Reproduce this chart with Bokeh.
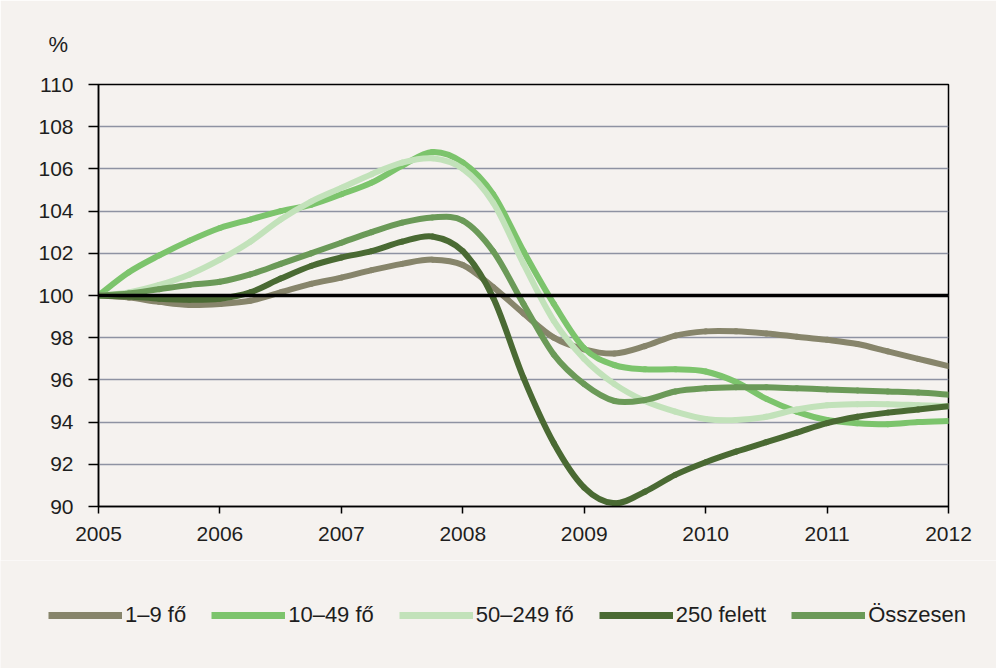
import numpy as np
from bokeh.plotting import figure
from bokeh.layouts import column
from bokeh.models import Range1d, FixedTicker, Span, Legend, LegendItem
from bokeh.embed import file_html
from bokeh.resources import INLINE

# quarterly periods
periods = [2005.0, 2005.25, 2005.5, 2005.75, 2006.0, 2006.25, 2006.5, 2006.75,
           2007.0, 2007.25, 2007.5, 2007.75, 2008.0, 2008.25, 2008.5, 2008.75,
           2009.0, 2009.25, 2009.5, 2009.75, 2010.0, 2010.25, 2010.5, 2010.75,
           2011.0, 2011.25, 2011.5, 2011.75, 2012.0]

s_1_9 = [100, 99.9, 99.7, 99.55, 99.6, 99.75, 100.15, 100.55, 100.85, 101.2, 101.5, 101.7,
         101.45, 100.4, 99.15, 98.0, 97.45, 97.25, 97.6, 98.1, 98.3, 98.3, 98.2, 98.05,
         97.9, 97.7, 97.35, 97.0, 96.65]
s_10_49 = [100, 101.1, 101.9, 102.6, 103.2, 103.6, 104.0, 104.3, 104.8, 105.35, 106.15, 106.8,
           106.3, 104.8, 102.1, 99.6, 97.5, 96.7, 96.5, 96.5, 96.4, 95.9, 95.1, 94.5,
           94.1, 93.95, 93.9, 94.0, 94.05]
s_50_249 = [100, 100.15, 100.5, 101.0, 101.7, 102.55, 103.6, 104.45, 105.1, 105.75, 106.3, 106.5,
            106.0, 104.4, 101.5, 98.8, 97.0, 95.8, 95.0, 94.5, 94.15, 94.1, 94.25, 94.6,
            94.8, 94.85, 94.85, 94.8, 94.75]
s_250 = [100, 99.95, 99.85, 99.8, 99.85, 100.15, 100.8, 101.4, 101.8, 102.1, 102.55, 102.8,
         102.1, 99.9, 96.1, 93.0, 90.9, 90.15, 90.7, 91.5, 92.1, 92.6, 93.05, 93.5,
         93.95, 94.25, 94.45, 94.6, 94.75]
s_ossz = [100, 100.1, 100.3, 100.5, 100.65, 101.0, 101.5, 102.0, 102.5, 103.0, 103.45, 103.7,
          103.55, 102.1, 99.6, 97.2, 95.8, 95.0, 95.05, 95.45, 95.6, 95.65, 95.65, 95.6,
          95.55, 95.5, 95.45, 95.4, 95.3]

series_names = ["1\u20139 f\u0151", "10\u201349 f\u0151", "50\u2013249 f\u0151", "250 felett", "\u00d6sszesen"]
series_values = [s_1_9, s_10_49, s_50_249, s_250, s_ossz]
series_colors = ["#87856b", "#7cc46c", "#c2e2ba", "#4a6a33", "#6b9a58"]

year_ticks = [2005, 2006, 2007, 2008, 2009, 2010, 2011, 2012]
y_ticks = [90, 92, 94, 96, 98, 100, 102, 104, 106, 108, 110]
unit_label = "%"

BG = "#f5f2ef"
FONT = "Liberation Sans"
TXT = "#1e1e1e"

p = figure(width=996, height=560, x_range=Range1d(2005, 2012), y_range=Range1d(90, 110),
           output_backend="svg", toolbar_location=None,
           min_border_left=98, min_border_right=48, min_border_top=84, min_border_bottom=54,
           background_fill_color=BG, border_fill_color=BG)
p.frame_align = False

p.title.text = unit_label
p.title.align = "left"
p.title.offset = -50
p.title.standoff = 56
p.title.text_font = FONT
p.title.text_font_size = "22px"
p.title.text_font_style = "normal"
p.title.text_color = TXT

p.outline_line_color = "black"
p.outline_line_width = 1.5

p.xgrid.grid_line_color = None
p.ygrid.grid_line_color = "#8e92a2"
p.ygrid.grid_line_width = 1.5

p.xaxis.ticker = FixedTicker(ticks=year_ticks)
p.yaxis.ticker = FixedTicker(ticks=y_ticks)
for ax in (p.xaxis[0], p.yaxis[0]):
    ax.axis_line_color = "black"
    ax.axis_line_width = 1.5
    ax.major_tick_line_color = "black"
    ax.major_tick_line_width = 1.5
    ax.major_tick_in = 0
    ax.minor_tick_line_color = None
    ax.major_label_text_font = FONT
    ax.major_label_text_font_size = "21px"
    ax.major_label_text_color = TXT
p.yaxis.major_tick_out = 10
p.yaxis.major_label_standoff = 15
p.xaxis.major_tick_out = 7
p.xaxis.major_label_standoff = 13


def smooth_segments(xs, ys):
    xs = np.asarray(xs, dtype=float)
    ys = np.asarray(ys, dtype=float)
    n = len(xs)
    xp = np.concatenate([[xs[0]], xs, [xs[-1]]])
    yp = np.concatenate([[ys[0]], ys, [ys[-1]]])
    x0 = xs[:-1]; y0 = ys[:-1]; x1 = xs[1:]; y1 = ys[1:]
    cx0 = x0 + (xp[2:n + 1] - xp[0:n - 1]) / 6.0
    cy0 = y0 + (yp[2:n + 1] - yp[0:n - 1]) / 6.0
    cx1 = x1 - (xp[3:n + 2] - xp[1:n]) / 6.0
    cy1 = y1 - (yp[3:n + 2] - yp[1:n]) / 6.0
    return dict(x0=x0, y0=y0, x1=x1, y1=y1, cx0=cx0, cy0=cy0, cx1=cx1, cy1=cy1)


for vals, col in zip(series_values, series_colors):
    seg = smooth_segments(periods, vals)
    p.bezier(x0=seg["x0"], y0=seg["y0"], x1=seg["x1"], y1=seg["y1"],
             cx0=seg["cx0"], cy0=seg["cy0"], cx1=seg["cx1"], cy1=seg["cy1"],
             line_color=col, line_width=6, line_cap="round")

p.add_layout(Span(location=100, dimension="width", line_color="black", line_width=3.5))

# legend strip below the chart
lf = figure(width=996, height=108, x_range=Range1d(0, 1), y_range=Range1d(0, 1),
            output_backend="svg", toolbar_location=None,
            x_axis_location=None, y_axis_location=None,
            min_border_left=0, min_border_right=0, min_border_top=0, min_border_bottom=0,
            background_fill_color=BG, border_fill_color=BG)
lf.frame_align = False
lf.grid.grid_line_color = None
lf.outline_line_color = None

items = []
for name, col in zip(series_names, series_colors):
    r = lf.line(x=[0.5], y=[0.5], line_color=col, line_width=7)
    items.append(LegendItem(label=name, renderers=[r]))

legend = Legend(items=items, orientation="horizontal", location=(48, 40),
                glyph_width=74, glyph_height=26, label_height=26, label_standoff=3,
                spacing=25, padding=0, margin=0, border_line_color=None,
                background_fill_alpha=0, label_text_font=FONT,
                label_text_font_size="22px", label_text_color=TXT)
lf.add_layout(legend)

layout = column(p, lf, spacing=0)
open("out.html", "w").write(file_html(layout, INLINE))
